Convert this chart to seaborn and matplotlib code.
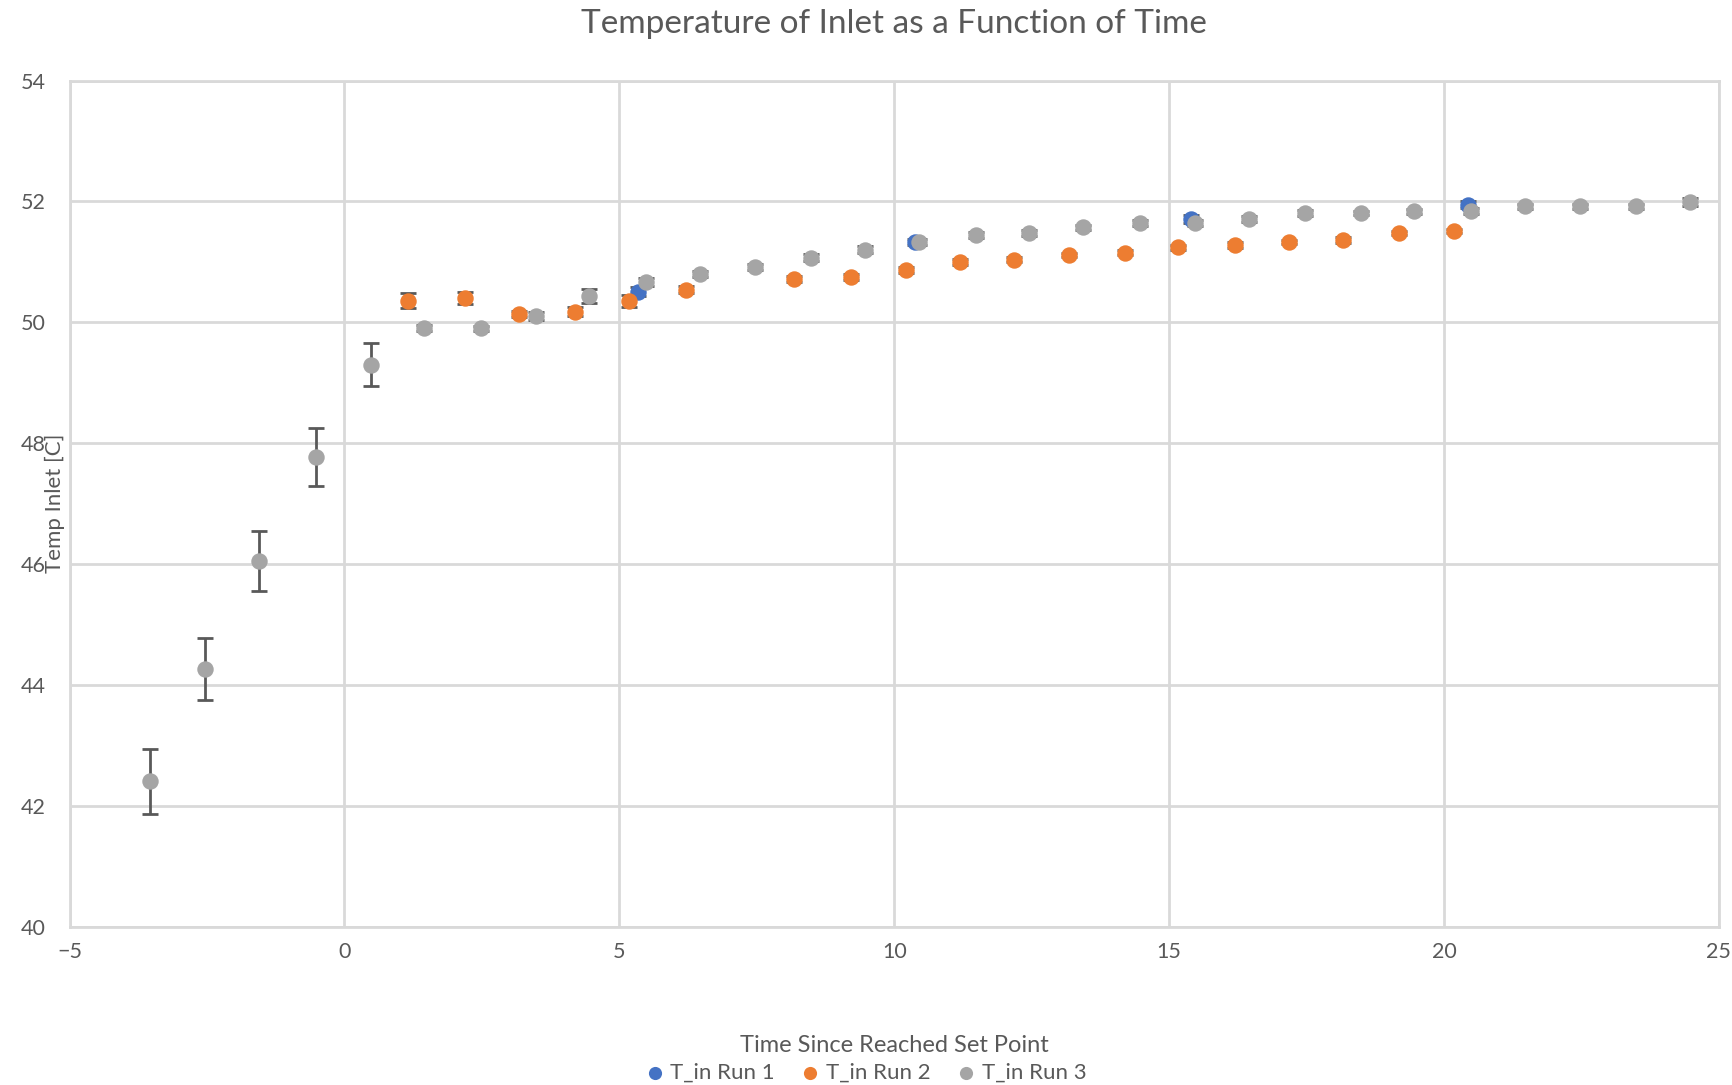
import pandas as pd
import matplotlib.pyplot as plt
import matplotlib.transforms as mtransforms
import seaborn as sns

# Readings for the three runs (time in min, temp in C, error)
run1_t = [5.33, 10.37, 15.39, 20.44]
run1_temp = [50.51, 51.33, 51.71, 51.95]
run1_err = [0.08, 0.05, 0.06, 0.05]

run2_t = [1.15, 2.19, 3.18, 4.20, 5.17, 6.21, 8.18, 9.21, 10.21, 11.19,
          12.18, 13.18, 14.19, 15.17, 16.20, 17.18, 18.17, 19.19, 20.18]
run2_temp = [50.36, 50.40, 50.14, 50.18, 50.36, 50.54, 50.71, 50.75, 50.87, 51.00,
             51.04, 51.11, 51.15, 51.24, 51.28, 51.33, 51.37, 51.48, 51.51]
run2_err = [0.12, 0.10, 0.05, 0.08, 0.10, 0.06, 0.05, 0.05, 0.05, 0.05,
            0.04, 0.03, 0.04, 0.04, 0.05, 0.03, 0.05, 0.04, 0.03]

run3_t = [-3.53, -2.53, -1.56, -0.52, 0.49, 1.45, 2.49, 3.48, 4.44, 5.49,
          6.47, 7.46, 8.48, 9.47, 10.45, 11.48, 12.46, 13.44, 14.47, 15.47,
          16.46, 17.48, 18.49, 19.45, 20.50, 21.48, 22.47, 23.49, 24.48]
run3_temp = [42.41, 44.27, 46.05, 47.78, 49.30, 49.90, 49.90, 50.11, 50.44, 50.67,
             50.80, 50.91, 51.07, 51.20, 51.33, 51.44, 51.48, 51.57, 51.64, 51.64,
             51.71, 51.81, 51.81, 51.84, 51.84, 51.92, 51.92, 51.92, 51.99]
run3_err = [0.54, 0.51, 0.50, 0.48, 0.36, 0.05, 0.04, 0.07, 0.12, 0.06,
            0.05, 0.05, 0.06, 0.06, 0.05, 0.05, 0.05, 0.04, 0.05, 0.05,
            0.05, 0.05, 0.04, 0.04, 0.05, 0.04, 0.04, 0.04, 0.06]

labels = ["T_in Run 1", "T_in Run 2", "T_in Run 3"]
colors = ["#4472C4", "#ED7D31", "#A5A5A5"]

runs = [(run1_t, run1_temp, run1_err), (run2_t, run2_temp, run2_err), (run3_t, run3_temp, run3_err)]
frames = []
for lab, (t, y, e) in zip(labels, runs):
    frames.append(pd.DataFrame({"time": t, "temp": y, "err": e, "run": lab}))
df = pd.concat(frames, ignore_index=True)

sns.set_style("white")
plt.rcParams["font.family"] = ["Lato", "DejaVu Sans"]
text_col = "#595959"

fig = plt.figure(figsize=(17.32, 10.85), dpi=100)
ax = fig.add_axes([0.0402, 0.1458, 0.9522, 0.7799])

for lab, col in zip(labels, colors):
    d = df[df["run"] == lab]
    ax.errorbar(d["time"], d["temp"], yerr=d["err"], fmt="none", ecolor=text_col,
                elinewidth=2, capsize=6, capthick=2, zorder=2)
    sns.scatterplot(data=d, x="time", y="temp", color=col, s=140, linewidth=0,
                    label=lab, ax=ax, zorder=3)

ax.set_xlim(-5, 25)
ax.set_ylim(40, 54)
ax.set_xticks(range(-5, 26, 5))
ax.set_yticks(range(40, 55, 2))
ax.grid(True, color="#d9d9d9", linewidth=2)
ax.set_axisbelow(True)
for sp in ax.spines.values():
    sp.set_color("#d9d9d9")
    sp.set_linewidth(2)

ax.set_title("Temperature of Inlet as a Function of Time", fontsize=24,
             color=text_col, pad=34)
ax.set_xlabel("Time Since Reached Set Point", fontsize=17, color=text_col, labelpad=0)
ax.xaxis.set_label_coords(0.5, -0.128)
ax.set_ylabel("Temp Inlet [C]", fontsize=16, color=text_col)
ax.yaxis.set_label_coords(-0.003, 0.5)

ax.legend(loc="lower center", bbox_to_anchor=(0.5, -0.016), bbox_transform=fig.transFigure,
          ncol=3, frameon=False, fontsize=16, handlelength=0.8, handletextpad=0.3,
          columnspacing=1.2, labelcolor=text_col, markerscale=0.8)

ax.tick_params(axis="both", length=0, labelsize=15.5, colors=text_col)
ax.tick_params(axis="x", pad=13)
ax.tick_params(axis="y", pad=17)

# make sure the x tick labels sit where the reference has them (centre ~133 px from bottom)
fig.canvas.draw()
r = fig.canvas.get_renderer()
for lbl in ax.get_xticklabels():
    bb = lbl.get_window_extent(r)
    shift = (bb.y0 + bb.y1) / 2 - 133
    if abs(shift) > 1:
        lbl.set_transform(lbl.get_transform() + mtransforms.Affine2D().translate(0, -shift))

fig.savefig("out.png", dpi=100)
plt.close()
